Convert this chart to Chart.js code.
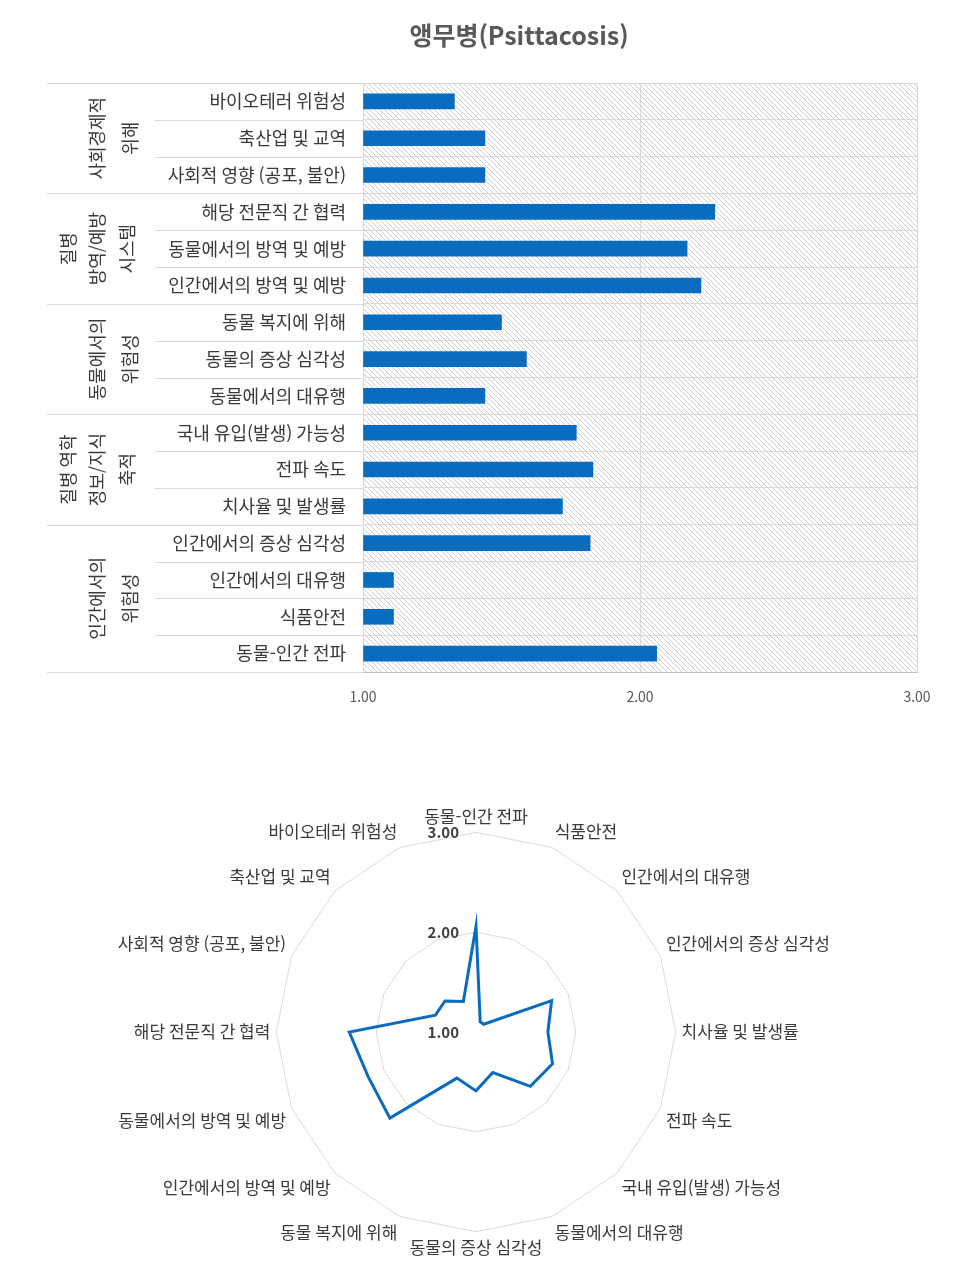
<!doctype html>
<html lang="ko">
<head>
<meta charset="utf-8">
<script src="https://cdn.jsdelivr.net/npm/chart.js"></script>
<style>
  body { margin: 0; background: #fff; }
  #barBox { position: absolute; left: 0; top: 0; width: 953px; height: 740px; }
  #radarBox { position: absolute; left: 0; top: 806px; width: 953px; height: 452px; }
</style>
</head>
<body>
<div id="barBox"><canvas id="barChart" width="953" height="740"></canvas></div>
<div id="radarBox"><canvas id="radarChart" width="953" height="452"></canvas></div>

<script>
  // data (bar order, top to bottom)
  const chartTitle = '앵무병(Psittacosis)';
  const categories = [
    '바이오테러 위험성', '축산업 및 교역', '사회적 영향 (공포, 불안)',
    '해당 전문직 간 협력', '동물에서의 방역 및 예방', '인간에서의 방역 및 예방',
    '동물 복지에 위해', '동물의 증상 심각성', '동물에서의 대유행',
    '국내 유입(발생) 가능성', '전파 속도', '치사율 및 발생률',
    '인간에서의 증상 심각성', '인간에서의 대유행', '식품안전', '동물-인간 전파'
  ];
  const scores = [1.33, 1.44, 1.44, 2.27, 2.17, 2.22, 1.50, 1.59, 1.44, 1.77, 1.83, 1.72, 1.82, 1.11, 1.11, 2.06];
  const groupLines = [
    ['사회경제적', '위해'],
    ['질병', '방역/예방', '시스템'],
    ['동물에서의', '위험성'],
    ['질병 역학', '정보/지식', '축적'],
    ['인간에서의', '위험성']
  ];
  const groupSizes = [3, 3, 3, 3, 4];
  const axisTicks = [1, 2, 3];

  // radar goes clockwise from the last bar upwards
  const radarLabels = categories.slice().reverse();
  const radarScores = scores.slice().reverse();

  const FONT = "'Noto Sans CJK KR', 'Noto Sans', sans-serif";
  const BLUE = '#0a6cbf';
  const GRID = '#d9d9d9';

  function makeHatch() {
    var c = document.createElement('canvas');
    c.width = 5; c.height = 5;
    var g = c.getContext('2d');
    g.fillStyle = '#ffffff';
    g.fillRect(0, 0, 5, 5);
    g.strokeStyle = '#cdcdcd';
    g.lineWidth = 1;
    g.beginPath();
    g.moveTo(-1, -1); g.lineTo(6, 6);
    g.moveTo(-1, 4); g.lineTo(1, 6);
    g.moveTo(4, -1); g.lineTo(6, 1);
    g.stroke();
    return c;
  }

  const barDecor = {
    id: 'barDecor',
    beforeDraw(chart) {
      var a = chart.chartArea, ctx = chart.ctx;
      ctx.save();
      ctx.fillStyle = ctx.createPattern(makeHatch(), 'repeat');
      ctx.fillRect(a.left, a.top, a.right - a.left, a.bottom - a.top);
      ctx.restore();
    },
    afterDraw(chart) {
      var a = chart.chartArea, ctx = chart.ctx, y = chart.scales.y;
      function edge(i) {
        if (i <= 0) return a.top;
        if (i >= categories.length) return a.bottom;
        return (y.getPixelForValue(i - 1) + y.getPixelForValue(i)) / 2;
      }
      ctx.save();
      // row separators in the label area
      var groupStarts = [0];
      groupSizes.forEach(function (n, k) { groupStarts.push(groupStarts[k] + n); });
      ctx.strokeStyle = GRID;
      ctx.lineWidth = 1;
      for (var i = 0; i <= categories.length; i++) {
        var isGroup = groupStarts.indexOf(i) >= 0;
        var yy = Math.round(edge(i)) + 0.5;
        ctx.beginPath();
        ctx.moveTo(isGroup ? 47 : 155, yy);
        ctx.lineTo(a.left, yy);
        ctx.stroke();
      }
      // group labels, rotated
      ctx.fillStyle = '#3a3a3a';
      ctx.font = '18px ' + FONT;
      ctx.textAlign = 'center';
      ctx.textBaseline = 'middle';
      groupLines.forEach(function (lines, k) {
        var cy = (edge(groupStarts[k]) + edge(groupStarts[k + 1])) / 2;
        var xs = lines.length === 3 ? [68, 97, 127] : [97, 130];
        lines.forEach(function (t, j) {
          ctx.save();
          ctx.translate(xs[j], cy);
          ctx.rotate(-Math.PI / 2);
          ctx.fillText(t, 0, 0);
          ctx.restore();
        });
      });
      // title
      ctx.fillStyle = '#595959';
      ctx.font = 'bold 25px ' + FONT;
      ctx.fillText(chartTitle, 519, 35);
      ctx.restore();
    }
  };

  new Chart(document.getElementById('barChart'), {
    type: 'bar',
    data: {
      labels: categories,
      datasets: [{
        data: scores,
        base: 1,
        backgroundColor: BLUE,
        barThickness: 15
      }]
    },
    options: {
      indexAxis: 'y',
      responsive: false,
      animation: false,
      layout: { padding: { top: 83, right: 36, bottom: 20, left: 0 } },
      plugins: { legend: { display: false }, tooltip: { enabled: false } },
      scales: {
        x: {
          min: 1, max: 3,
          afterBuildTicks: function (s) { s.ticks = axisTicks.map(function (v) { return { value: v }; }); },
          afterFit: function (s) { s.height = 48; },
          ticks: {
            callback: function (v) { return Number(v).toFixed(2); },
            font: { family: FONT, size: 14 }, color: '#595959', padding: 16
          },
          grid: { color: GRID, drawTicks: false },
          border: { color: '#bfbfbf' }
        },
        y: {
          afterFit: function (s) { s.width = 363; },
          ticks: { font: { family: FONT, size: 18 }, color: '#3a3a3a', padding: 17 },
          grid: { color: GRID, offset: true, drawTicks: false },
          border: { color: GRID }
        }
      }
    },
    plugins: [barDecor]
  });

  const radarTickLabels = {
    id: 'radarTickLabels',
    afterDraw(chart) {
      var r = chart.scales.r, ctx = chart.ctx;
      ctx.save();
      ctx.fillStyle = '#404040';
      ctx.font = 'bold 15px ' + FONT;
      ctx.textAlign = 'right';
      ctx.textBaseline = 'middle';
      axisTicks.forEach(function (v) {
        ctx.fillText(v.toFixed(2), r.xCenter - 17, r.yCenter - r.getDistanceFromCenterForValue(v));
      });
      ctx.restore();
    }
  };

  new Chart(document.getElementById('radarChart'), {
    type: 'radar',
    data: {
      labels: radarLabels,
      datasets: [{
        data: radarScores,
        borderColor: BLUE,
        borderWidth: 3,
        pointRadius: 0,
        fill: false
      }]
    },
    options: {
      responsive: false,
      animation: false,
      plugins: { legend: { display: false }, tooltip: { enabled: false } },
      scales: {
        r: {
          min: 1, max: 3,
          ticks: { display: false, stepSize: 1 },
          grid: { circular: false, color: GRID },
          angleLines: { display: false },
          pointLabels: { font: { family: FONT, size: 17 }, color: '#3a3a3a', padding: 6 }
        }
      }
    },
    plugins: [radarTickLabels]
  });
</script>
</body>
</html>
